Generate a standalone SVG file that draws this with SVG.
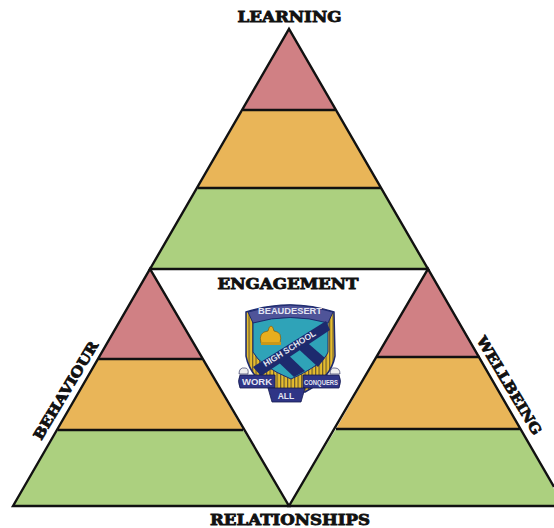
<svg xmlns="http://www.w3.org/2000/svg" width="554" height="528" viewBox="0 0 554 528">
<defs>
<pattern id="st" width="3.500" height="10" patternUnits="userSpaceOnUse"><rect width="3.500" height="10" fill="#e6bd2e"/><rect width="1.200" height="10" fill="#6a5a30"/></pattern>
</defs>
<style>
.t{fill:#111;font-family:"DejaVu Serif","Liberation Serif",serif;font-weight:bold;font-size:14px;text-anchor:middle;stroke:#111;stroke-width:.8}
.r{fill:#d08084}.o{fill:#e9b558}.g{fill:#acd07f}
.l{fill:none;stroke:#111;stroke-width:2.400;stroke-linejoin:miter}
.c{fill:#e4e6f2;font-family:"Liberation Sans",sans-serif;font-weight:bold;font-size:8px;text-anchor:middle}
.b{fill:#2f3586;stroke:#14194f;stroke-width:.8}
</style>
<rect width="554" height="528" fill="#fff"/>
<g id="learning">
<polygon class="r" points="289,29 335,110 243,110"/>
<polygon class="o" points="243,110 335,110 381,188 198,188"/>
<polygon class="g" points="198,188 381,188 428,269 150,269"/>
<path class="l" d="M150,269 289,29 428,269ZM243,110H335M198,188H381"/>
<text class="t" x="289.500" y="22" textLength="104" lengthAdjust="spacingAndGlyphs">LEARNING</text>
</g>
<g id="behaviour">
<polygon class="r" points="150,269 202,359 98,359"/>
<polygon class="o" points="98,359 202,359 243,430 58,430"/>
<polygon class="g" points="58,430 243,430 289,506 13,506"/>
<path class="l" d="M13,506 150,269 289,506ZM98,359H202M58,430H243"/>
<text class="t" transform="translate(70,393) rotate(-59)" textLength="112" lengthAdjust="spacingAndGlyphs">BEHAVIOUR</text>
</g>
<g id="wellbeing">
<polygon class="r" points="428,269 480,357 377,357"/>
<polygon class="o" points="377,357 480,357 520,429 336,429"/>
<polygon class="g" points="336,429 520,429 554,489 554,506 289,506"/>
<path class="l" d="M554,487 428,269 289,506H554M377,357H480M336,429H520"/>
<text class="t" transform="translate(505,388) rotate(59)" textLength="112" lengthAdjust="spacingAndGlyphs">WELLBEING</text>
</g>
<g id="engagement">
<text class="t" x="288" y="289" textLength="141" lengthAdjust="spacingAndGlyphs">ENGAGEMENT</text>
</g>
<g id="relationships">
<text class="t" x="290" y="525" textLength="160" lengthAdjust="spacingAndGlyphs">RELATIONSHIPS</text>
</g>
<g id="crest">
<path d="M246,312Q290,298 334,312L335,356Q331,378 305,392H276Q250,378 246,356Z" fill="url(#st)" stroke="#1d2a6e" stroke-width="1.500"/>
<path d="M253,322Q290,312 328,322V352Q324,364 291,379Q260,366 253,352Z" fill="#2fa3b8" stroke="#1d2a6e" stroke-width="1"/>
<path d="M248,312Q290,298 333,312L328,323Q290,312 253,323Z" fill="#4f5499" stroke="#1d2a6e"/>
<polygon points="273,357 282,349 305,371 294,377" fill="#1d2a6e"/>
<polygon points="293,344 302,338 325,358 318,367" fill="#1d2a6e"/>
<polygon points="253,367 326,321 330,330 261,376" fill="#1d2a6e"/>
<path d="M261,343Q258,332 268,331Q269,326 271,326Q273,326 274,331Q283,332 280,343Z" fill="#e8ae1e" stroke="#7a5a10" stroke-width=".7"/>
<rect x="261" y="342" width="20" height="3" fill="#c9981a"/>
<path class="b" d="M240,375H275V388H240Q237,381 240,375ZM303,375H339Q342,381 339,388H303Z"/>
<path class="b" d="M268,388H305L301,402H272Z"/>
<path d="M239,374Q239,367 245,368Q249,368 248,374ZM330,374Q330,367 335,368Q340,368 340,374Z" fill="#eee" stroke="#14194f" stroke-width=".6"/>
<text class="c" x="290" y="314" textLength="64" lengthAdjust="spacingAndGlyphs" style="font-size:9px">BEAUDESERT</text>
<text class="c" transform="translate(291,351) rotate(-32)" textLength="60" lengthAdjust="spacingAndGlyphs" style="font-size:8.500px">HIGH SCHOOL</text>
<text class="c" x="257" y="385" textLength="30" lengthAdjust="spacingAndGlyphs" style="font-size:8.500px">WORK</text>
<text class="c" x="321" y="385" textLength="34" lengthAdjust="spacingAndGlyphs" style="font-size:7.500px">CONQUERS</text>
<text class="c" x="286" y="399" style="font-size:8.500px">ALL</text>
</g>
</svg>
